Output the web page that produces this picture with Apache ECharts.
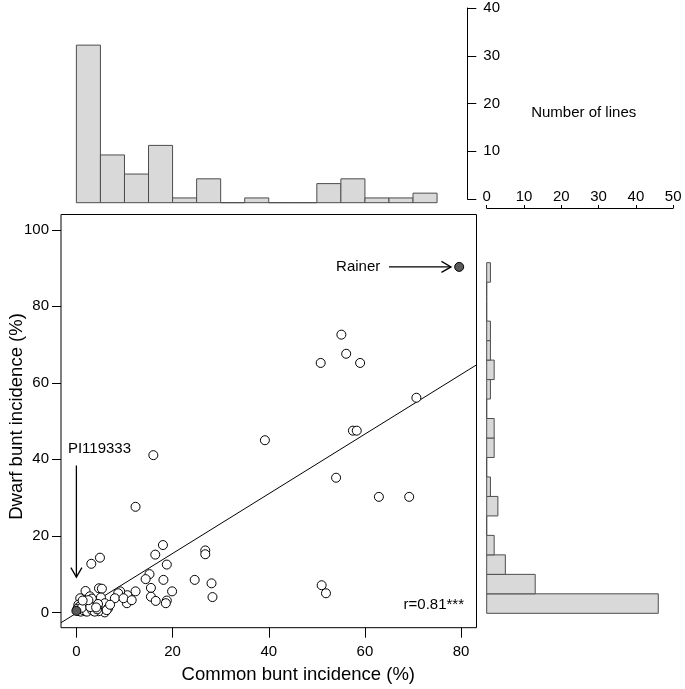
<!DOCTYPE html>
<html>
<head>
<meta charset="utf-8">
<script src="https://cdn.jsdelivr.net/npm/echarts@6/dist/echarts.min.js"></script>
<style>
html,body{margin:0;padding:0;background:#fff;}
#chart{width:685px;height:689px;}
</style>
</head>
<body>
<div id="chart"></div>
<script>
// ---------- DATA ----------
// Common bunt incidence (%) of each line (x) and dwarf bunt incidence (%) (y)
const commonBunt = [
  55.1, 56.1, 50.8, 59.0, 70.7, 57.5, 58.3, 39.2, 16.0, 54.0,
  62.9, 69.2, 12.3, 51.0, 51.9, 18.0, 16.4, 26.8, 26.8, 18.8,
  4.9, 3.1, 15.2, 14.4, 18.1, 24.6, 28.1, 28.3, 19.9, 15.5,
  15.5, 16.5, 18.8, 18.6, 12.3, 10.6, 10.5, 9.1, 8.7, 8.0,
  4.7, 5.3, 1.9, 0.8, 2.8, 3.9, 5.1, 5.9, 6.6, 5.9,
  4.6, 2.8, 1.8, 0.8, 0.4, 3.9, 9.8, 6.3, 2.0, 1.2,
  7.0, 11.5, 0.3, 0.9, 1.4, 2.2, 3.3, 3.8, 4.3, 0.5,
  1.6, 2.4, 3.2, 4.5, 0.2, 1.1, 2.9, 4.1, 2.5, 1.3
];
const dwarfBunt = [
  72.6, 67.6, 65.2, 65.2, 56.1, 47.5, 47.5, 45.0, 41.1, 35.2,
  30.2, 30.2, 27.6, 7.1, 5.0, 17.6, 15.1, 16.2, 15.2, 12.5,
  14.3, 12.7, 10.0, 8.7, 8.5, 8.5, 7.6, 4.0, 5.5, 6.4,
  4.1, 3.0, 3.1, 2.4, 5.5, 4.5, 2.4, 5.5, 5.0, 3.7,
  6.3, 6.2, 5.6, 3.7, 4.2, 2.9, 3.9, 2.4, 1.1, 0.0,
  0.3, 0.7, 0.3, 0.7, 2.0, 1.6, 3.7, 0.6, 1.5, 1.0,
  2.0, 3.2, 0.4, 0.2, 0.6, 0.2, 0.5, 0.2, 0.8, 1.4,
  2.4, 1.8, 3.6, 2.2, 0.9, 1.2, 1.4, 1.3, 3.2, 3.1
];
// check cultivars (filled symbols)
const checkNames = ['Rainer', 'PI119333'];
const checkCommon = [79.6, 0.0];
const checkDwarf = [90.3, 0.4];

// regression fit and correlation label
const fitSlope = 0.78;
const fitIntercept = -0.2;
const corrLabel = 'r=0.81***';

// histogram of common bunt incidence (top), bins of 5 %
const topBinStarts = [0, 5, 10, 15, 20, 25, 30, 35, 40, 45, 50, 55, 60, 65, 70];
const topCounts    = [33, 10, 6, 12, 1, 5, 0, 1, 0, 0, 4, 5, 1, 1, 2];
// histogram of dwarf bunt incidence (right), bins of 5 %
const rightBinStarts = [0, 5, 10, 15, 20, 25, 30, 35, 40, 45, 50, 55, 60, 65, 70, 75, 80, 85];
const rightCounts    = [46, 13, 5, 2, 0, 3, 1, 0, 2, 2, 0, 1, 2, 1, 1, 0, 0, 1];
const binWidth = 5;

// tick labels
const xTicks = [0, 20, 40, 60, 80];
const yTicks = [0, 20, 40, 60, 80, 100];
const histCountTicks = [0, 10, 20, 30, 40];
const rightCountTicks = [0, 10, 20, 30, 40, 50];

// ---------- LAYOUT / STYLE ----------
const FONT = '"Liberation Sans", Arial, Helvetica, sans-serif';
const xMin = -3.2, xMax = 83.2, yMin = -4, yMax = 104;
const barFill = '#d9d9d9', barStroke = '#4d4d4d';

const scatterData = commonBunt.map((v, i) => [v, dwarfBunt[i]]);
const checkData = checkCommon.map((v, i) => [v, checkDwarf[i], checkNames[i]]);
const topHistData = topBinStarts.map((s, i) => [s, s + binWidth, topCounts[i]]);
const rightHistData = rightBinStarts.map((s, i) => [s, s + binWidth, rightCounts[i]]);
const fitData = [[xMin, fitIntercept + fitSlope * xMin], [xMax, fitIntercept + fitSlope * xMax]];

// annotation placements (data units of the scatter panel)
const annotations = {
  piText: [4.8, 42.8],
  piArrow: [[0, 38.4], [0, 9.2]],
  rainerText: [58.6, 90.3],
  rainerArrow: [[65.0, 90.3], [77.9, 90.3]],
  corr: [80.6, 2.0]
};

const chart = echarts.init(document.getElementById('chart'), null, {renderer: 'canvas'});

function arrowGroup(api, from, to) {
  const a = api.coord(from), b = api.coord(to);
  const dx = b[0] - a[0], dy = b[1] - a[1];
  const len = Math.sqrt(dx * dx + dy * dy);
  const ux = dx / len, uy = dy / len;
  const hl = 11, ang = Math.PI / 6;
  const cos = Math.cos(ang), sin = Math.sin(ang);
  const p1 = [b[0] - hl * (ux * cos - uy * sin), b[1] - hl * (uy * cos + ux * sin)];
  const p2 = [b[0] - hl * (ux * cos + uy * sin), b[1] - hl * (uy * cos - ux * sin)];
  const st = {stroke: '#000', lineWidth: 1.3, fill: null};
  return [
    {type: 'line', shape: {x1: a[0], y1: a[1], x2: b[0], y2: b[1]}, style: st},
    {type: 'polyline', shape: {points: [p1, b, p2]}, style: st}
  ];
}

const axisText = {color: '#000', fontFamily: FONT, fontSize: 15};
const blackLine = {lineStyle: {color: '#000', width: 1}};

const option = {
  animation: false,
  backgroundColor: '#fff',
  grid: [
    {left: 61, top: 214.5, width: 415.5, height: 413.2, show: true, borderColor: '#000', borderWidth: 1, backgroundColor: 'transparent'},
    {left: 61, top: 11.7, width: 415.5, height: 191},
    {left: 400, top: 8, width: 67.3, height: 191},
    {left: 486.7, top: 262.7, width: 186.5, height: 350.6}
  ],
  xAxis: [
    {gridIndex: 0, type: 'value', min: xMin, max: xMax,
     axisLine: {show: false, onZero: false},
     axisTick: {show: true, length: 10, customValues: xTicks, ...blackLine},
     axisLabel: {show: true, customValues: xTicks, margin: 17, ...axisText},
     splitLine: {show: false}},
    {gridIndex: 1, type: 'value', min: xMin, max: xMax, show: false},
    {gridIndex: 2, type: 'value', min: 0, max: 1, show: false},
    {gridIndex: 3, type: 'value', min: 0, max: 50, position: 'top', offset: 54.7,
     axisLine: {show: true, onZero: false, ...blackLine},
     axisTick: {show: true, length: 3, customValues: rightCountTicks, ...blackLine},
     axisLabel: {show: true, customValues: rightCountTicks, margin: 4, ...axisText},
     splitLine: {show: false}}
  ],
  yAxis: [
    {gridIndex: 0, type: 'value', min: yMin, max: yMax,
     axisLine: {show: false, onZero: false},
     axisTick: {show: true, length: 9, customValues: yTicks, ...blackLine},
     axisLabel: {show: true, customValues: yTicks, margin: 12, ...axisText},
     splitLine: {show: false}},
    {gridIndex: 1, type: 'value', min: 0, max: 40, show: false},
    {gridIndex: 2, type: 'value', min: 0, max: 40, position: 'right',
     axisLine: {show: true, onZero: false, ...blackLine},
     axisTick: {show: true, length: 9, customValues: histCountTicks, ...blackLine},
     axisLabel: {show: true, customValues: histCountTicks, margin: 16, ...axisText,
       formatter: function (v) { return v === 0 ? '' : String(v); }},
     splitLine: {show: false}},
    {gridIndex: 3, type: 'value', min: 0, max: 90, show: false}
  ],
  graphic: [
    {type: 'text', x: 17, y: 416.5, rotation: Math.PI / 2,
     style: {text: 'Dwarf bunt incidence (%)', font: '18.5px ' + FONT, fill: '#000', align: 'center', verticalAlign: 'middle'}},
    {type: 'text', x: 298.3, y: 675,
     style: {text: 'Common bunt incidence (%)', font: '18.5px ' + FONT, fill: '#000', align: 'center', verticalAlign: 'middle'}},
    {type: 'text', x: 583.7, y: 113.3,
     style: {text: 'Number of lines', font: '15px ' + FONT, fill: '#000', align: 'center', verticalAlign: 'middle'}}
  ],
  series: [
    {
      type: 'custom', xAxisIndex: 1, yAxisIndex: 1, silent: true,
      encode: {x: [0, 1], y: 2},
      data: topHistData,
      renderItem: function (params, api) {
        const p0 = api.coord([api.value(0), 0]);
        const p1 = api.coord([api.value(1), api.value(2)]);
        return {type: 'rect', shape: {x: p0[0], y: p1[1], width: p1[0] - p0[0], height: p0[1] - p1[1]},
                style: {fill: barFill, stroke: barStroke, lineWidth: 1}};
      }
    },
    {
      type: 'custom', xAxisIndex: 3, yAxisIndex: 3, silent: true,
      encode: {x: 2, y: [0, 1]},
      data: rightHistData,
      renderItem: function (params, api) {
        const p0 = api.coord([0, api.value(0)]);
        const p1 = api.coord([api.value(2), api.value(1)]);
        return {type: 'rect', shape: {x: p0[0], y: p1[1], width: p1[0] - p0[0], height: p0[1] - p1[1]},
                style: {fill: barFill, stroke: barStroke, lineWidth: 1}};
      }
    },
    {
      type: 'line', xAxisIndex: 0, yAxisIndex: 0, data: fitData, symbol: 'none', silent: true,
      lineStyle: {color: '#000', width: 1}, clip: true, z: 2
    },
    {
      type: 'scatter', xAxisIndex: 0, yAxisIndex: 0, data: scatterData, symbol: 'circle', symbolSize: 9,
      itemStyle: {color: '#fff', borderColor: '#000', borderWidth: 1, opacity: 1}, z: 3, silent: true
    },
    {
      type: 'scatter', xAxisIndex: 0, yAxisIndex: 0, data: checkData, symbol: 'circle', symbolSize: 9,
      itemStyle: {color: '#5a5a5a', borderColor: '#000', borderWidth: 1, opacity: 1}, z: 4, silent: true
    },
    {
      type: 'custom', xAxisIndex: 0, yAxisIndex: 0, silent: true, z: 5,
      data: [[0, 0]],
      renderItem: function (params, api) {
        const children = [];
        const pt = api.coord(annotations.piText);
        children.push({type: 'text', x: pt[0], y: pt[1],
          style: {text: checkNames[1], font: '15px ' + FONT, fill: '#000', align: 'center', verticalAlign: 'middle'}});
        const rt = api.coord(annotations.rainerText);
        children.push({type: 'text', x: rt[0], y: rt[1],
          style: {text: checkNames[0], font: '15px ' + FONT, fill: '#000', align: 'center', verticalAlign: 'middle'}});
        const ct = api.coord(annotations.corr);
        children.push({type: 'text', x: ct[0], y: ct[1],
          style: {text: corrLabel, font: '15px ' + FONT, fill: '#000', align: 'right', verticalAlign: 'middle'}});
        arrowGroup(api, annotations.piArrow[0], annotations.piArrow[1]).forEach(c => children.push(c));
        arrowGroup(api, annotations.rainerArrow[0], annotations.rainerArrow[1]).forEach(c => children.push(c));
        return {type: 'group', children: children};
      }
    }
  ]
};
chart.setOption(option);
</script>
</body>
</html>
